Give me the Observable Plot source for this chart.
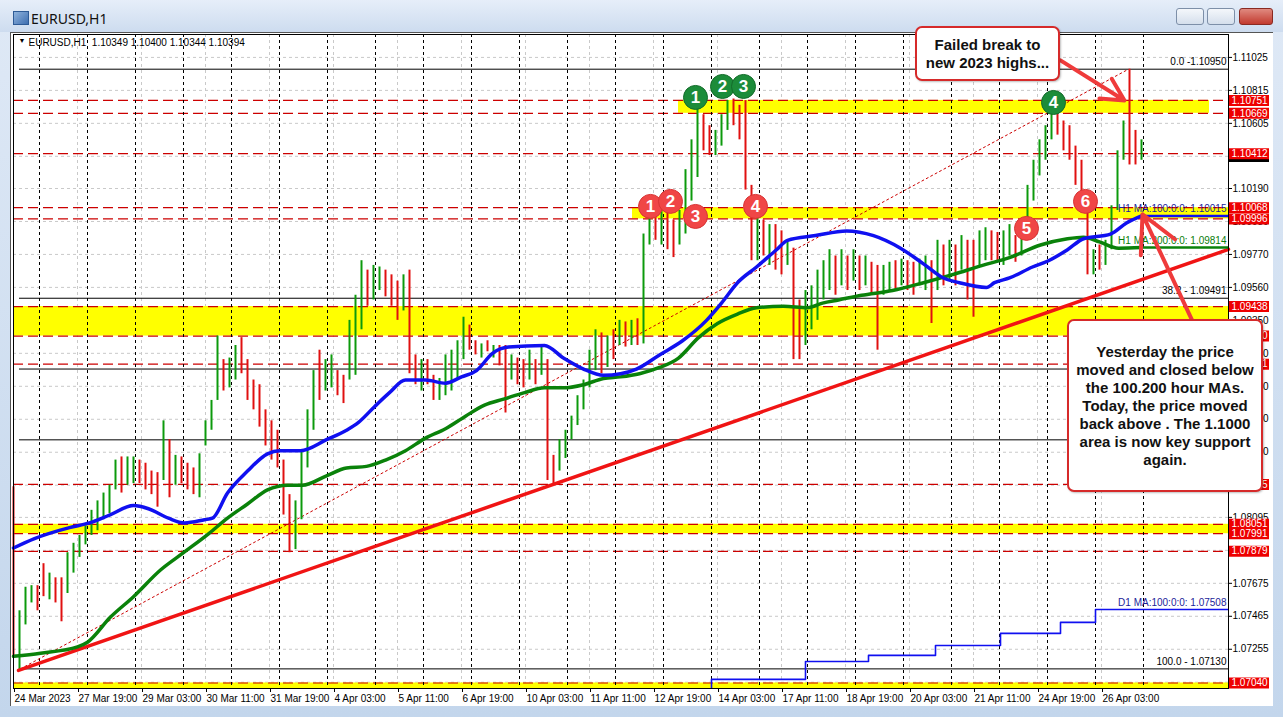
<!DOCTYPE html>
<html>
<head>
<meta charset="utf-8">
<script src="https://cdn.jsdelivr.net/npm/d3@7"></script>
<script src="https://cdn.jsdelivr.net/npm/@observablehq/plot@0.6"></script>
<style>
  html, body { margin: 0; padding: 0; }
  body { width: 1283px; height: 717px; overflow: hidden; position: relative;
         background: linear-gradient(#dfe9f6, #c3d6ec); font-family: "Liberation Sans", Arial, sans-serif; }
  #titlebar { position: absolute; left: 0; top: 0; width: 1283px; height: 32px;
              background: linear-gradient(#e6eef9, #cddcef); }
  #icon { position: absolute; left: 13px; top: 11px; width: 14px; height: 12px;
          background: linear-gradient(135deg, #8fb3dd, #3f6fb0); border: 1px solid #2e5b96; }
  #wtitle { position: absolute; left: 31px; top: 9px; font: 14px "Noto Sans", sans-serif; color: #111; }
  .btn { position: absolute; top: 8px; height: 17px; border: 1px solid #7d8fa8; border-radius: 3px;
         background: linear-gradient(#f4f7fb, #d5dfec); box-sizing: border-box; }
  #chartbg { position: absolute; left: 10px; top: 32px; width: 1263px; height: 674px; background: #fff;
             border-left: 1px solid #555; border-top: 1px solid #555; box-sizing: border-box; }
  #plot { position: absolute; left: 0; top: 0; }
  .note { position: absolute; background: #fff; border: 2px solid #d62a2a; border-radius: 7px;
          box-sizing: border-box; font: bold 15px "Liberation Sans", Arial, sans-serif; color: #111;
          text-align: center; line-height: 18px; display: flex; align-items: center; justify-content: center;
          box-shadow: 1px 1px 2px rgba(0,0,0,0.25); }
</style>
</head>
<body>
<div id="titlebar"></div>
<div id="icon"></div>
<div id="wtitle">EURUSD,H1</div>
<div class="btn" style="left:1176px;width:28px;"></div>
<div class="btn" style="left:1207px;width:28px;"></div>
<div class="btn" style="left:1239px;width:34px;background:linear-gradient(#e08a80,#c23a2e);border-color:#8a2a22;"></div>
<div id="chartbg"></div>
<div id="plot"></div>
<div class="note" style="left:915px;top:26px;width:145px;height:55px;">Failed break to<br>new 2023 highs...</div>
<div class="note" style="left:1067px;top:319px;width:196px;height:173px;">Yesterday the price<br>moved and closed below<br>the 100.200 hour MAs.<br>Today, the price moved<br>back above . The 1.1000<br>area is now key support<br>again.</div>
<script>
// ---------------- data ----------------
// x axis: hourly bar index; tick labels every 32 bars
const xTickBars = [0, 32, 64, 96, 128, 160, 192, 224, 256, 288, 320, 352, 384, 416, 448, 480, 512, 544];
const xTickLabels = ["24 Mar 2023", "27 Mar 19:00", "29 Mar 03:00", "30 Mar 11:00", "31 Mar 19:00", "4 Apr 03:00",
  "5 Apr 11:00", "6 Apr 19:00", "10 Apr 03:00", "11 Apr 11:00", "12 Apr 19:00", "14 Apr 03:00", "17 Apr 11:00",
  "18 Apr 19:00", "20 Apr 03:00", "21 Apr 11:00", "24 Apr 19:00", "26 Apr 03:00"];
const daySeparators = [13, 37, 61, 85, 109, 133, 157, 181, 205, 229, 253, 277, 301, 325, 349, 373, 397, 421, 445, 469, 493, 517, 541, 565];
// grid levels (all) and the price-scale labels that are not hidden by tags
const yGrid = [1.11025, 1.10815, 1.10605, 1.10395, 1.10190, 1.09980, 1.09770, 1.09560, 1.09350, 1.09140, 1.08930,
  1.08720, 1.08510, 1.08300, 1.08095, 1.07885, 1.07675, 1.07465, 1.07255, 1.07045];
const yTicks = [1.11025, 1.10815, 1.10605, 1.10190, 1.09980, 1.09770, 1.09560, 1.09350, 1.09140, 1.08930,
  1.08720, 1.08510, 1.08300, 1.08095, 1.07675, 1.07465, 1.07255];

// price bars, read every 3rd hour (bar index = 3 * k)
const barHigh = [1.0829,1.0750,1.0765,1.0766,1.0766,1.0780,1.0774,1.0771,1.0771,1.0787,
  1.0793,1.0798,1.0804,1.0814,1.0820,1.0825,1.0830,1.0846,1.0848,1.0848,
  1.0848,1.0846,1.0844,1.0839,1.0838,1.0871,1.0859,1.0849,1.0848,1.0844,
  1.0841,1.0850,1.0871,1.0884,1.0925,1.0910,1.0911,1.0919,1.0924,1.0910,
  1.0897,1.0894,1.0878,1.0871,1.0865,1.0846,1.0824,1.0820,1.0852,1.0878,
  1.0903,1.0916,1.0910,1.0913,1.0903,1.0900,1.0935,1.0951,1.0973,1.0967,
  1.0970,1.0969,1.0967,1.0964,1.0960,1.0964,1.0967,1.0913,1.0910,1.0910,
  1.0900,1.0898,1.0913,1.0916,1.0922,1.0937,1.0932,1.0922,1.0920,1.0922,
  1.0919,1.0919,1.0919,1.0913,1.0911,1.0910,1.0916,1.0910,1.0919,1.0910,
  1.0849,1.0859,1.0865,1.0874,1.0887,1.0897,1.0916,1.0929,1.0927,1.0925,
  1.0929,1.0935,1.0934,1.0935,1.0936,1.0990,1.1002,1.1003,1.1005,1.1004,
  1.0999,1.1005,1.1031,1.1050,1.1071,1.1066,1.1059,1.1056,1.1066,1.1075,
  1.1076,1.1072,1.1075,1.1021,1.1002,1.0999,1.0996,1.0996,1.0992,1.0986,
  1.0981,1.0948,1.0954,1.0957,1.0967,1.0973,1.0980,1.0976,1.0980,1.0976,
  1.0980,1.0976,1.0976,1.0972,1.0970,1.0970,1.0972,1.0973,1.0974,1.0973,
  1.0972,1.0974,1.0976,1.0973,1.0986,1.0983,1.0986,1.0983,1.0989,1.0986,
  1.0986,1.0992,1.0994,1.0992,1.0991,1.0992,1.0996,1.0989,1.0999,1.1021,
  1.1037,1.1050,1.1059,1.1073,1.1069,1.1062,1.1059,1.1046,1.1037,1.1015,
  1.0980,1.0983,1.0986,1.1008,1.1043,1.1062,1.1095,1.1056,1.1050];
const barLow = [1.0720,1.0712,1.0741,1.0755,1.0750,1.0759,1.0757,1.0755,1.0743,1.0761,
  1.0774,1.0784,1.0792,1.0798,1.0801,1.0808,1.0812,1.0827,1.0825,1.0830,
  1.0831,1.0831,1.0827,1.0824,1.0816,1.0833,1.0822,1.0830,1.0831,1.0827,
  1.0824,1.0822,1.0855,1.0865,1.0884,1.0890,1.0892,1.0897,1.0901,1.0884,
  1.0878,1.0867,1.0855,1.0846,1.0841,1.0811,1.0787,1.0789,1.0808,1.0841,
  1.0865,1.0884,1.0890,1.0892,1.0887,1.0882,1.0897,1.0900,1.0929,1.0944,
  1.0948,1.0954,1.0950,1.0944,1.0935,1.0941,1.0901,1.0894,1.0890,1.0894,
  1.0884,1.0884,1.0887,1.0890,1.0897,1.0910,1.0916,1.0913,1.0911,1.0915,
  1.0911,1.0906,1.0876,1.0897,1.0894,1.0892,1.0897,1.0894,1.0900,1.0833,
  1.0831,1.0839,1.0847,1.0859,1.0868,1.0878,1.0892,1.0903,1.0901,1.0905,
  1.0910,1.0919,1.0918,1.0919,1.0919,1.0920,1.0983,1.0986,1.0983,1.0980,
  1.0975,1.0983,1.0990,1.1011,1.1026,1.1043,1.1040,1.1040,1.1046,1.1056,
  1.1059,1.1050,1.1018,1.0973,1.0973,1.0976,1.0970,1.0967,1.0964,1.0970,
  1.0910,1.0910,1.0919,1.0929,1.0935,1.0948,1.0954,1.0951,1.0957,1.0954,
  1.0960,1.0954,1.0957,1.0951,1.0916,1.0951,1.0953,1.0954,1.0957,1.0954,
  1.0951,1.0957,1.0954,1.0933,1.0954,1.0957,1.0960,1.0957,1.0967,1.0948,
  1.0937,1.0970,1.0973,1.0973,1.0972,1.0970,1.0976,1.0972,1.0976,1.0986,
  1.1011,1.1027,1.1037,1.1050,1.1053,1.1043,1.1037,1.1021,1.1015,1.0964,
  1.0964,1.0967,1.0970,1.0980,1.1005,1.1037,1.1034,1.1034,1.1037];
const barColors = "rgggrrgrrg" + "ggggggggrg" + "grrrrgrgrr" + "rggggrggrr" + "rrrrrrrggg" +
  "grggrrgggr" + "ggrrrgrrgr" + "rgggggrrgr" + "grrgrrgrgr" + "rgggggggrg" +
  "rgrgrggrgr" + "rggggrrggg" + "rrrrgrgrrg" + "rrgggggrgr" + "grgrrggrgr" +
  "rggrgrgrgr" + "rggrrggrgg" + "ggggrrrrrr" + "grggggrrg";

// H1 moving averages (bar index, value)
const ma100Bar = [0,10.5,28,38,48,60,67.5,77.5,85.5,95.5,99.5,107,117,127,133,143.5,156.5,166.5,172.5,180.5,188,196,206,216,224,231.5,239.5,247.5,265.5,275,285,295,303.5,311.5,323,334.5,346.5,354,362,371.5,381.5,387,401,416.5,430,443.5,455,465,473,486.5,490.5,498,509.5,517.5,527,535,548.5,556.5,564];
const ma100Val = [1.0790,1.0796,1.0803,1.0806,1.0811,1.0817,1.0815,1.0809,1.0806,1.0808,1.0809,1.0825,1.0839,1.0850,1.0852,1.0852,1.0859,1.0865,1.0870,1.0880,1.0889,1.0897,1.0897,1.0895,1.0899,1.0903,1.0914,1.0918,1.0919,1.0911,1.0904,1.0900,1.0901,1.0904,1.0913,1.0922,1.0935,1.0946,1.0959,1.0969,1.0980,1.0986,1.0989,1.0992,1.0989,1.0981,1.0971,1.0962,1.0959,1.0956,1.0959,1.0962,1.0969,1.0973,1.0980,1.0987,1.0990,1.0997,1.10015];
const ma200Bar = [0,13.5,32,37,48.5,60,73.5,85,97.5,107,117,127,137,144.5,156.5,166.5,176.5,186,196,206,216,226,235.5,245.5,255.5,265.5,275,285,295,303.5,313,323,332.5,342.5,352,362,371.5,385,397,404.5,412.5,424,439.5,455,469,484.5,498,513.5,527,535,543,552.5,564];
const ma200Val = [1.0721,1.0723,1.0727,1.0730,1.0746,1.0759,1.0776,1.0787,1.0799,1.0809,1.0818,1.0827,1.0830,1.0830,1.0836,1.0841,1.0842,1.0846,1.0852,1.0860,1.0866,1.0874,1.0881,1.0885,1.0889,1.0892,1.0892,1.0894,1.0898,1.0899,1.0901,1.0905,1.0911,1.0924,1.0933,1.0939,1.0943,1.0944,1.0943,1.0946,1.0948,1.0951,1.0954,1.0959,1.0964,1.0970,1.0975,1.0983,1.0987,1.0988,1.0985,1.0981,1.09814];
// D1 MA 100 (step line)
const d1Bar = [348.5, 349, 396, 427.5, 461, 493.5, 523.5, 541, 607.5];
const d1Val = [1.0690, 1.07063, 1.07177, 1.07216, 1.07279, 1.07356, 1.07426, 1.07508, 1.07508];

// horizontal levels
const levels = [1.10751, 1.10669, 1.10412, 1.10068, 1.09996, 1.09438, 1.09250, 1.09071, 1.08305, 1.08051, 1.07991, 1.07879, 1.07040];
const bandLow = [1.10669, 1.09996, 1.09250, 1.07991, 1.07005];
const bandHigh = [1.10751, 1.10068, 1.09438, 1.08051, 1.07040];
const bandStart = [332.5, 309.5, 0, 0, 0];
const bandEnd = [598, 607.5, 607.5, 607.5, 607.5];
const currentPrice = 1.10394;

// Fibonacci retracement (labels of 50.0 / 61.8 are hidden under the callout box)
const fibPct = ["0.0", "38.2", "50.0", "61.8", "100.0"];
const fibVal = [1.10950, 1.09491, 1.09040, 1.08589, 1.07130];
const fibShowLabel = [true, true, false, false, true];
const fibFromBar = 3;
const fibDiagBar = [3.5, 557.5];
const fibDiagVal = [1.07130, 1.10950];

// trend line
const trendBar = [2.5, 607.5];
const trendVal = [1.07120, 1.09802];

// numbered markers
const greenNum = ["1", "2", "3", "4"];
const greenBar = [341, 354.5, 365, 520];
const greenVal = [1.10770, 1.10840, 1.10840, 1.10738];
const redNum = ["1", "2", "3", "4", "5", "6"];
const redBar = [318.5, 328.5, 341, 371, 506.5, 536];
const redVal = [1.10076, 1.10108, 1.10012, 1.10076, 1.09936, 1.10108];

// callout arrows
const arrowFromBar = [523.5, 590.5];
const arrowFromVal = [1.11006, 1.09318];
const arrowToBar = [555.5, 564.5];
const arrowToVal = [1.10751, 1.10025];

const headerText = "EURUSD,H1  1.10349 1.10400 1.10344 1.10394";

// ---------------- chart ----------------
const xMax = 607.5;
const yDomain = [1.07005, 1.11171];
const bars = barHigh.map((h, k) => ({i: 3 * k, hi: h, lo: barLow[k], up: barColors[k] === "g"}));
const ma100 = ma100Bar.map((b, k) => ({b, v: ma100Val[k]}));
const ma200 = ma200Bar.map((b, k) => ({b, v: ma200Val[k]}));
const d1 = d1Bar.map((b, k) => ({b, v: d1Val[k]}));
const bands = bandLow.map((lo, k) => ({lo, hi: bandHigh[k], s: bandStart[k], e: bandEnd[k]}));
const fib = fibVal.map((v, k) => ({v, show: fibShowLabel[k], label: (k === 0 ? fibPct[k] + " -" : fibPct[k] + " - ") + v.toFixed(5)}));
const greens = greenNum.map((n, k) => ({n, b: greenBar[k], v: greenVal[k]}));
const reds = redNum.map((n, k) => ({n, b: redBar[k], v: redVal[k]}));
const arrows = arrowFromBar.map((b, k) => ({x1: b, y1: arrowFromVal[k], x2: arrowToBar[k], y2: arrowToVal[k]}));
const lastMa100 = ma100Val[ma100Val.length - 1];
const lastMa200 = ma200Val[ma200Val.length - 1];
const lastBar = ma100Bar[ma100Bar.length - 1];
const maLabels = [
  {v: lastMa100, t: "H1 MA:100:0:0: " + lastMa100.toFixed(5), c: "#1d1d9a"},
  {v: lastMa200, t: "H1 MA:200:0:0: " + lastMa200.toFixed(5), c: "#0a7d0a"},
  {v: d1Val[d1Val.length - 1], t: "D1 MA:100:0:0: " + d1Val[d1Val.length - 1].toFixed(5), c: "#1d1d9a"}
];

const chart = Plot.plot({
  width: 1283, height: 717,
  marginLeft: 13, marginRight: 55, marginTop: 34, marginBottom: 29,
  x: {domain: [0, xMax], axis: null},
  y: {domain: yDomain, axis: null},
  style: {background: "transparent", overflow: "visible", fontFamily: "Liberation Sans, Arial, sans-serif", fontSize: "10px", color: "black"},
  marks: [
    // faint grid
    Plot.ruleY(yGrid, {stroke: "#c9c9c9", strokeDasharray: "3,3"}),
    Plot.ruleX(xTickBars, {stroke: "#c9c9c9", strokeDasharray: "3,3"}),
    // yellow zones
    Plot.rect(bands, {x1: "s", x2: "e", y1: "lo", y2: "hi", fill: "#ffff00"}),
    // red dashed levels
    Plot.ruleY(levels, {x1: 0, x2: xMax, stroke: "#cc0000", strokeWidth: 1.2, strokeDasharray: "10,5"}),
    // fib lines
    Plot.ruleY(fib, {y: "v", x1: fibFromBar, x2: xMax, stroke: "black", strokeWidth: 1}),
    Plot.text(fib.filter(d => d.show), {y: "v", x: xMax, text: "label", textAnchor: "end", dx: -2, dy: -7, fill: "black"}),
    // daily separators
    Plot.ruleX(daySeparators, {stroke: "black", strokeDasharray: "3,3", strokeWidth: 1}),
    // fib diagonal
    Plot.line(fibDiagBar.map((b, k) => ({b, v: fibDiagVal[k]})), {x: "b", y: "v", stroke: "#cc0000", strokeWidth: 1, strokeDasharray: "2,3"}),
    // price bars
    Plot.ruleX(bars, {x: "i", y1: "lo", y2: "hi", stroke: d => d.up ? "#0c9a0c" : "#e01010", strokeWidth: 2}),
    // trend line
    Plot.line(trendBar.map((b, k) => ({b, v: trendVal[k]})), {x: "b", y: "v", stroke: "#f01414", strokeWidth: 3.5}),
    // moving averages
    Plot.line(ma200, {x: "b", y: "v", stroke: "#0a820a", strokeWidth: 3.5, curve: "monotone-x"}),
    Plot.line(ma100, {x: "b", y: "v", stroke: "#1010f0", strokeWidth: 3.5, curve: "monotone-x"}),
    Plot.ruleY([lastMa200], {x1: lastBar, x2: xMax, stroke: "#0a820a", strokeWidth: 2.5}),
    Plot.ruleY([lastMa100], {x1: lastBar, x2: xMax, stroke: "#1010f0", strokeWidth: 2.5}),
    Plot.line(d1, {x: "b", y: "v", stroke: "#1010f0", strokeWidth: 1.6, curve: "step-after", clip: true}),
    Plot.text(maLabels, {y: "v", x: xMax, text: "t", fill: "c", textAnchor: "end", dx: -2, dy: -7}),
    // frame and axes
    Plot.frame({stroke: "black"}),
    Plot.axisY(yTicks, {anchor: "right", tickSize: 3, tickPadding: 1, tickFormat: d => d.toFixed(5), fontSize: 10}),
    Plot.axisX(xTickBars, {anchor: "bottom", tickSize: 4, tickPadding: 2, textAnchor: "start", dx: 1,
      tickFormat: d => xTickLabels[xTickBars.indexOf(d)], fontSize: 10}),
    // right-axis price tags (current price tag is almost fully covered by the 1.10412 tag)
    Plot.ruleY([currentPrice], {x1: xMax + 0.5, x2: xMax + 20.5, stroke: "black", strokeWidth: 11}),
    Plot.ruleY(levels, {x1: xMax + 0.5, x2: xMax + 20.5, stroke: "#ee0000", strokeWidth: 11}),
    Plot.text(levels, {y: d => d, x: xMax + 1.5, text: d => d.toFixed(5), fill: "white", textAnchor: "start"}),
    // header
    Plot.text([headerText], {frameAnchor: "top-left", dx: 15, dy: 4, textAnchor: "start", fill: "black", fontSize: 10}),
    Plot.text(["\u25BC"], {frameAnchor: "top-left", dx: 5, dy: 4, textAnchor: "start", fill: "black", fontSize: 7}),
    // arrows to callouts
    Plot.arrow(arrows, {x1: "x1", y1: "y1", x2: "x2", y2: "y2", stroke: "#ef3b3b", strokeWidth: 4, headLength: 16, headAngle: 55}),
    // numbered markers
    Plot.dot(greens, {x: "b", y: "v", r: 12, fill: "#1c8c3a", stroke: "#136b2a", strokeWidth: 1}),
    Plot.text(greens, {x: "b", y: "v", text: "n", fill: "white", fontSize: 17, fontWeight: "bold"}),
    Plot.dot(reds, {x: "b", y: "v", r: 12, fill: "#f04646", stroke: "#d83434", strokeWidth: 1}),
    Plot.text(reds, {x: "b", y: "v", text: "n", fill: "white", fontSize: 17, fontWeight: "bold"})
  ]
});
document.getElementById("plot").appendChild(chart);
</script>
</body>
</html>
